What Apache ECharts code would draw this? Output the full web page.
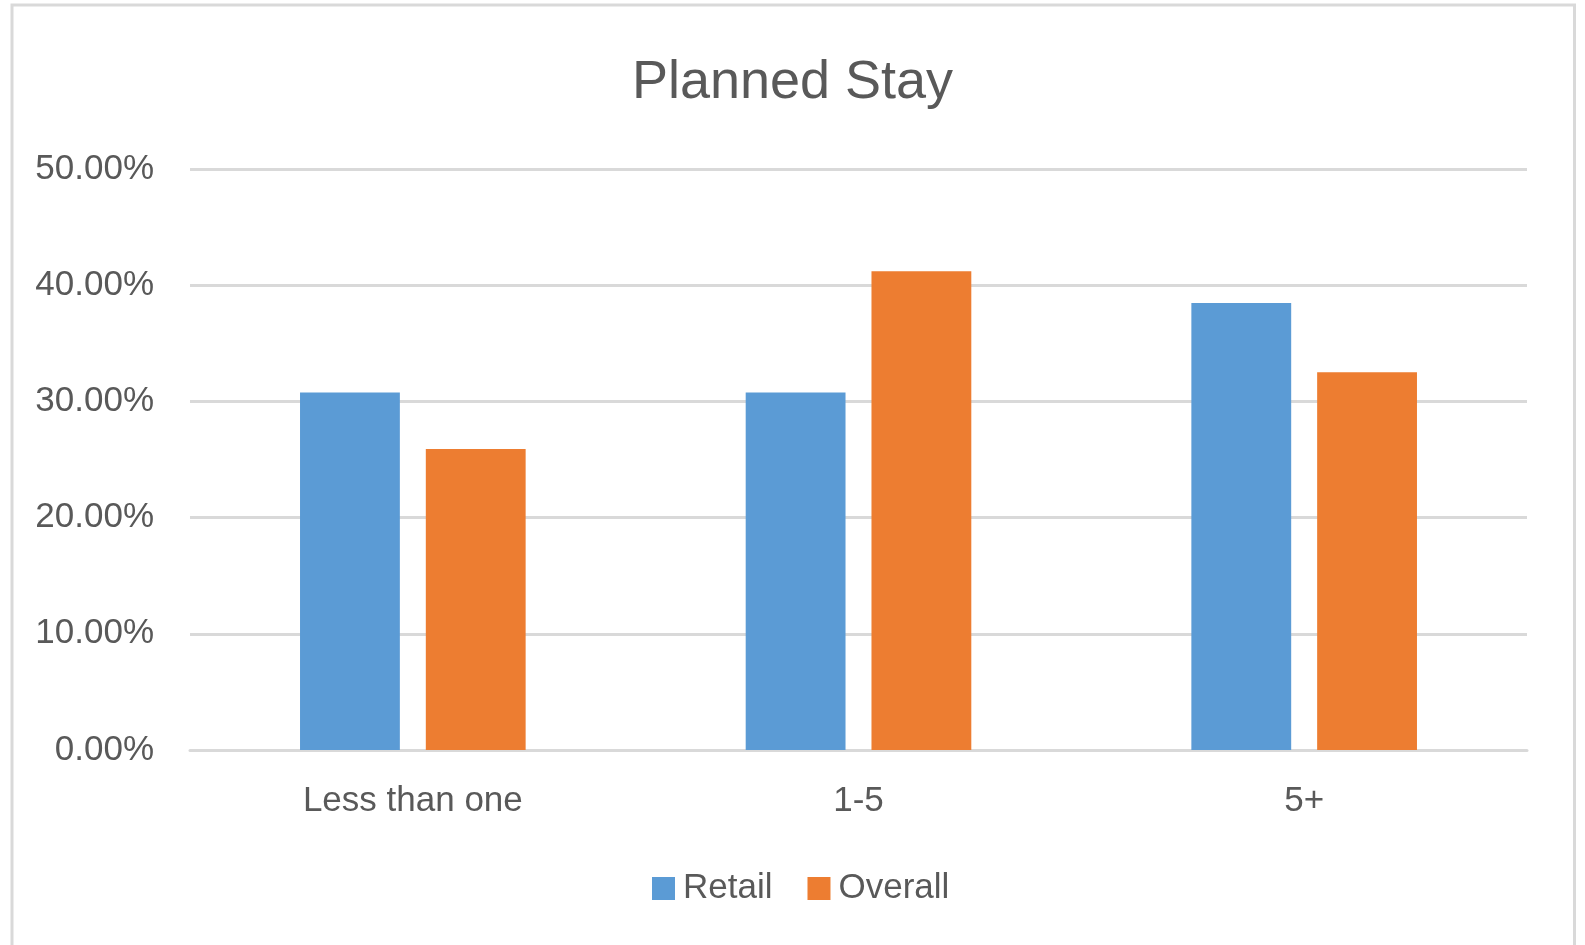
<!DOCTYPE html>
<html>
<head>
<meta charset="utf-8">
<script src="https://cdn.jsdelivr.net/npm/echarts@6/dist/echarts.min.js"></script>
<style>
html,body{margin:0;padding:0;background:#fff;}
#chart{width:1585px;height:945px;}
</style>
</head>
<body>
<div id="chart"></div>
<script>
const titleText = 'Planned Stay';
const categories = ['Less than one', '1-5', '5+'];
const seriesNames = ['Retail', 'Overall'];
const retailValues = [30.77, 30.77, 38.46];
const overallValues = [25.9, 41.2, 32.5];
const yTicks = { min: 0, max: 50, interval: 10 };

const FONT = 'Liberation Sans';
const TEXT = '#595959';
const GRID = '#D9D9D9';

const chart = echarts.init(document.getElementById('chart'), null, { renderer: 'canvas' });
chart.setOption({
  animation: false,
  backgroundColor: '#ffffff',
  textStyle: { fontFamily: FONT },
  graphic: [{
    type: 'rect',
    shape: { x: 12, y: 5, width: 1562.5, height: 1000 },
    style: { fill: 'none', stroke: GRID, lineWidth: 3 },
    silent: true
  }],
  title: {
    text: titleText,
    left: 'center',
    top: 51,
    textStyle: { fontFamily: FONT, fontSize: 54, fontWeight: 'normal', color: TEXT }
  },
  legend: {
    data: seriesNames,
    left: 652,
    top: 871,
    padding: 0,
    icon: 'rect',
    itemWidth: 23,
    itemHeight: 23,
    itemGap: 35,
    textStyle: { fontFamily: FONT, fontSize: 35, color: TEXT, padding: [0, 0, 0, 3] }
  },
  grid: { left: 190, right: 58, top: 169, bottom: 195, containLabel: false },
  xAxis: {
    type: 'category',
    data: categories,
    axisTick: { show: false },
    axisLine: { show: true, lineStyle: { color: GRID, width: 3 } },
    axisLabel: { margin: 34, fontFamily: FONT, fontSize: 35, color: TEXT }
  },
  yAxis: {
    type: 'value',
    min: yTicks.min,
    max: yTicks.max,
    interval: yTicks.interval,
    axisLine: { show: false },
    axisTick: { show: false },
    splitLine: { lineStyle: { color: GRID, width: 3 } },
    axisLabel: {
      margin: 36,
      fontFamily: FONT,
      fontSize: 35,
      color: TEXT,
      padding: [0, 0, 8, 0],
      formatter: v => v.toFixed(2) + '%'
    }
  },
  series: [
    {
      name: seriesNames[0],
      type: 'bar',
      data: retailValues,
      barWidth: '22.4%',
      barGap: '26%',
      itemStyle: { color: '#5B9BD5' }
    },
    {
      name: seriesNames[1],
      type: 'bar',
      data: overallValues,
      barWidth: '22.4%',
      barGap: '26%',
      itemStyle: { color: '#ED7D31' }
    }
  ]
});
</script>
</body>
</html>
